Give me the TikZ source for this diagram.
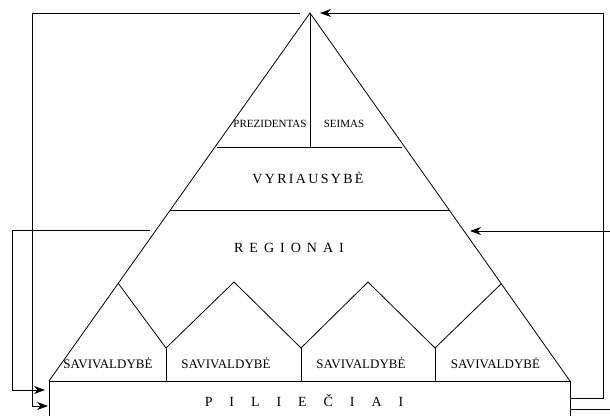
\documentclass[tikz,border=0pt]{standalone}
\usepackage{fontspec}
\setmainfont{Liberation Serif}
\usetikzlibrary{arrows.meta,positioning,calc}

\begin{document}
\begin{tikzpicture}[
    x=1pt, y=-1pt,
    line width=0.8pt,
    >={Stealth[length=11pt,width=8pt,inset=3.5pt]},
    lbl/.style={inner sep=0pt, anchor=base},
    sav/.style={lbl, font=\fontsize{13}{15}\selectfont},
    small/.style={lbl, font=\fontsize{11}{13}\selectfont},
    wide/.style={lbl, font=\fontsize{14}{16}\selectfont\addfontfeature{LetterSpace=#1}},
    base/.style={rectangle, draw, inner sep=0pt, outer sep=0pt, minimum width=521pt, minimum height=41pt, text height=9.3pt, text depth=0pt}
]
    \useasboundingbox (0,0) rectangle (610,415);
    \clip (0,0) rectangle (610,415);

    \coordinate (apex) at (310,13);
    \coordinate (regl) at (150,230);
    \coordinate (regr) at (470,231);
    \node[base, anchor=north west, font=\fontsize{14}{16}\selectfont\addfontfeature{LetterSpace=121}] (pilieciai) at (49,381) {PILIEČIAI\kern11pt};

    % pyramid
    \draw (pilieciai.north west) -- (apex) -- (pilieciai.north east);
    \draw (apex) -- (310,147);
    \draw (217,147) -- (402,147);
    \draw (170,210) -- (449,210);
    \draw (118,283) -- (166,348) -- (234,282) -- (301,348) -- (368,282) -- (435,348) -- (501,284);
    \foreach \x in {166,301,435}
        \draw (\x,348) -- (\x,381);

    \node[small] (prezidentas) at (270,127) {PREZIDENTAS};
    \node[small] (seimas) at (344,127) {SEIMAS};
    \node[wide=16.5] (vyriausybe) at (308,183) {VYRIAUSYBĖ};
    \node[wide=43] (regionai) at (289,252) {REGIONAI};
    \node[sav] (sav1) at (108,368) {SAVIVALDYBĖ};
    \node[sav] (sav2) at (226,368) {SAVIVALDYBĖ};
    \node[sav] (sav3) at (361,368) {SAVIVALDYBĖ};
    \node[sav] (sav4) at (495.5,368) {SAVIVALDYBĖ};

    % feedback loops
    \draw[->] ($(apex)+(-10,0)$) -| ($(pilieciai.north west)+(-17,25)$) -- ($(pilieciai.north west)+(-1,25)$);
    \draw[->] (regl) -| ($(pilieciai.north west)+(-37,9)$) -- ($(pilieciai.north west)+(-4,9)$);
    \draw[->] ($(pilieciai.north east)+(0,17)$) -- ++(33,0) |- ($(apex)+(10,0)$);
    \draw[->] ($(pilieciai.north east)+(0,28)$) -- ++(46,0) |- (regr);
\end{tikzpicture}
\end{document}
